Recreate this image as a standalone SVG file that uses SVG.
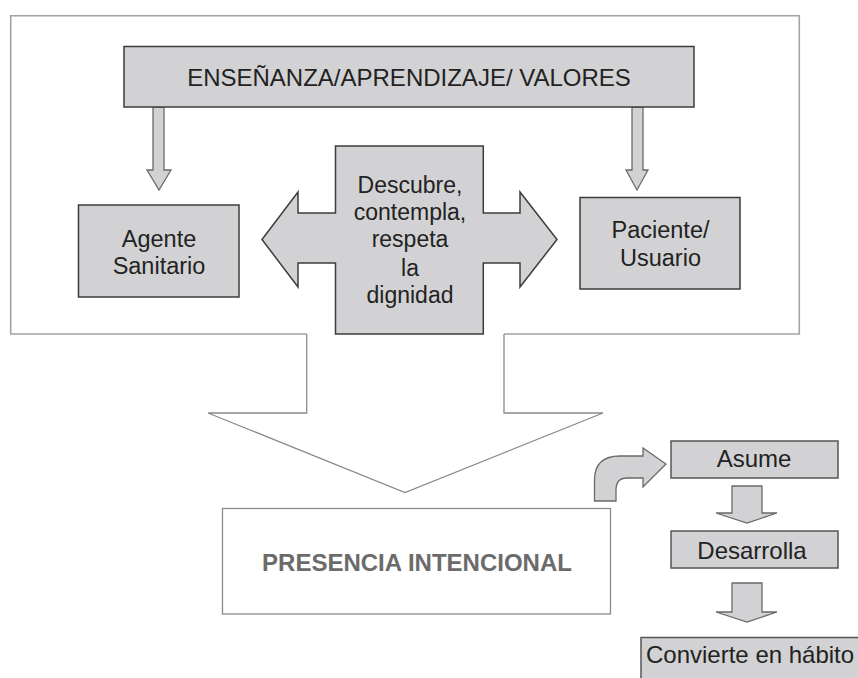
<svg xmlns="http://www.w3.org/2000/svg" width="858" height="678" viewBox="0 0 858 678">
<style>
  .box{fill:#d2d2d4;stroke:#3c3c3c;stroke-width:1.5}
  .arr{fill:#d2d2d4;stroke:#6a6a6a;stroke-width:1.3}
  .frame{fill:none;stroke:#a3a3a3;stroke-width:1.6}
  .big{fill:#ffffff;stroke:#8a8a8a;stroke-width:1.3}
  .t{font-family:"Liberation Sans",Arial,sans-serif;fill:#222;text-anchor:middle}
</style>
<rect width="858" height="678" fill="#ffffff"/>
<g id="frame">
  <path class="frame" d="M306.7,334 L10.7,334 L10.7,15.7 L799.3,15.7 L799.3,334 L504,334"/>
</g>
<g id="connectors">
  <path class="big" d="M306.7,334 L306.7,413 L208,413 L405,492.5 L603,413 L504,413 L504,334"/>
  <polygon class="arr" points="153,107 164,107 164,170 171,170 159,190 147,170 153,170"/>
  <polygon class="arr" points="632,107 643,107 643,170 648,170 637,190 626,170 632,170"/>
  <path class="arr" d="M594.5,501 L594.5,480 Q594.5,456 620,456 L643,456 L643,448 L666,464 L643,487 L643,478 L627,478 Q616,478 616,490 L616,501 Z"/>
  <polygon class="arr" points="732,486 762,486 762,513 777,513 747,523 716,513 732,513"/>
  <polygon class="arr" points="732,583 762,583 762,612 777,612 747,622 716,612 732,612"/>
</g>
<g id="ensenanza">
  <rect class="box" x="124" y="46.5" width="570" height="60.5"/>
  <text class="t" x="409" y="86" font-size="24">ENSEÑANZA/APRENDIZAJE/ VALORES</text>
</g>
<g id="agente">
  <rect class="box" x="78.5" y="205" width="160.5" height="92"/>
  <text class="t" x="159" y="246.5" font-size="23.5">Agente</text>
  <text class="t" x="159" y="273.5" font-size="23.5">Sanitario</text>
</g>
<g id="paciente">
  <rect class="box" x="580" y="197.5" width="160" height="91.5"/>
  <text class="t" x="660.5" y="237.5" font-size="23.5">Paciente/</text>
  <text class="t" x="660.5" y="265.5" font-size="23.5">Usuario</text>
</g>
<g id="cross">
  <polygon class="box" points="335.5,146 483.3,146 483.3,213 520,213 520,192 557,239.5 520,287 520,263 483.3,263 483.3,334 335.5,334 335.5,263 298,263 298,287 262,239.5 298,192 298,213 335.5,213"/>
  <text class="t" x="410" y="193" font-size="23">Descubre,</text>
  <text class="t" x="410" y="220" font-size="23">contempla,</text>
  <text class="t" x="410" y="247" font-size="23">respeta</text>
  <text class="t" x="410" y="276" font-size="23">la</text>
  <text class="t" x="410" y="303" font-size="23">dignidad</text>
</g>
<g id="presencia">
  <rect x="222.5" y="508.5" width="388" height="105.5" fill="#ffffff" stroke="#8a8a8a" stroke-width="1.3"/>
  <text class="t" x="417" y="571" font-size="24" font-weight="bold" style="fill:#6b6b6b">PRESENCIA INTENCIONAL</text>
</g>
<g id="asume">
  <rect class="box" x="671" y="441" width="167" height="37" style="stroke:#555"/>
  <text class="t" x="754" y="467" font-size="24">Asume</text>
</g>
<g id="desarrolla">
  <rect class="box" x="671" y="531" width="167" height="37" style="stroke:#555"/>
  <text class="t" x="752" y="559" font-size="24">Desarrolla</text>
</g>
<g id="convierte">
  <rect class="box" x="641" y="637.5" width="230" height="60" style="stroke:#555"/>
  <text class="t" x="646" y="663" font-size="24" style="text-anchor:start">Convierte en hábito</text>
</g>
</svg>
